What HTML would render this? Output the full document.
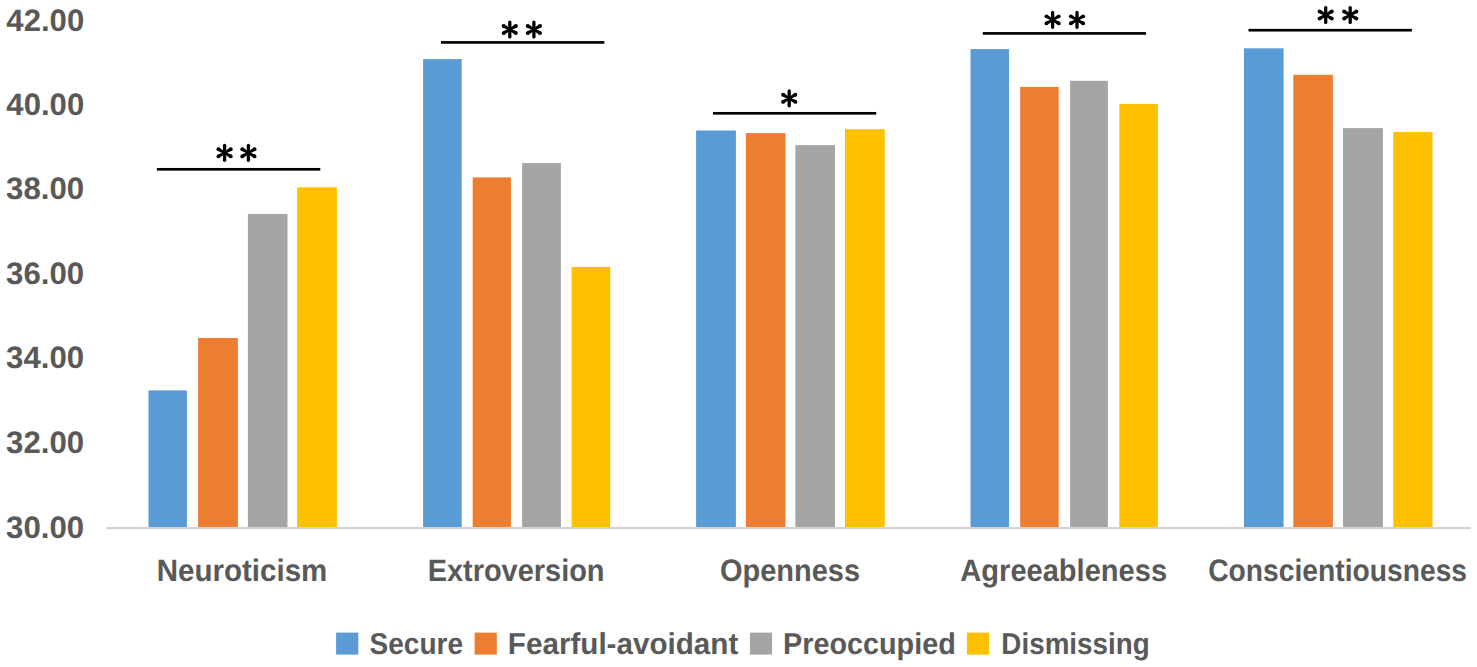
<!DOCTYPE html>
<html><head><meta charset="utf-8"><style>
html,body{margin:0;padding:0;background:#fff;}
body{width:1477px;height:667px;overflow:hidden;}
svg{display:block;}
text{font-family:"Liberation Sans",sans-serif;font-weight:bold;fill:#595959;text-rendering:geometricPrecision;}
.yl{font-size:31px;}
.cl{font-size:31px;}
.lg{font-size:30.2px;}
</style></head><body>
<svg width="1477" height="667" viewBox="0 0 1477 667">
<rect x="148.50" y="390.40" width="38.40" height="136.60" fill="#5B9BD5"/>
<rect x="198.10" y="338.00" width="39.80" height="189.00" fill="#ED7D31"/>
<rect x="247.90" y="213.90" width="39.60" height="313.10" fill="#A5A5A5"/>
<rect x="297.10" y="187.30" width="39.80" height="339.70" fill="#FFC000"/>
<rect x="423.10" y="59.10" width="38.60" height="467.90" fill="#5B9BD5"/>
<rect x="472.70" y="177.40" width="38.20" height="349.60" fill="#ED7D31"/>
<rect x="522.10" y="163.10" width="38.80" height="363.90" fill="#A5A5A5"/>
<rect x="571.50" y="266.90" width="38.70" height="260.10" fill="#FFC000"/>
<rect x="696.10" y="130.50" width="39.80" height="396.50" fill="#5B9BD5"/>
<rect x="745.90" y="133.10" width="39.60" height="393.90" fill="#ED7D31"/>
<rect x="795.40" y="145.10" width="39.60" height="381.90" fill="#A5A5A5"/>
<rect x="845.00" y="129.20" width="39.80" height="397.80" fill="#FFC000"/>
<rect x="970.50" y="49.10" width="38.60" height="477.90" fill="#5B9BD5"/>
<rect x="1020.20" y="86.90" width="38.50" height="440.10" fill="#ED7D31"/>
<rect x="1070.10" y="80.80" width="37.80" height="446.20" fill="#A5A5A5"/>
<rect x="1119.30" y="103.90" width="38.60" height="423.10" fill="#FFC000"/>
<rect x="1243.90" y="48.30" width="39.70" height="478.70" fill="#5B9BD5"/>
<rect x="1293.30" y="74.80" width="39.60" height="452.20" fill="#ED7D31"/>
<rect x="1343.00" y="128.10" width="39.90" height="398.90" fill="#A5A5A5"/>
<rect x="1393.30" y="131.90" width="39.20" height="395.10" fill="#FFC000"/>
<rect x="106.2" y="527" width="1364.8" height="2.2" fill="#D3D3D3"/>
<rect x="156.9" y="167.97" width="163.40" height="2.67" fill="#000"/>
<rect x="441" y="41.07" width="163.40" height="2.67" fill="#000"/>
<rect x="713" y="111.97" width="163.20" height="2.67" fill="#000"/>
<rect x="982.8" y="32.07" width="163.20" height="2.67" fill="#000"/>
<rect x="1248.5" y="28.87" width="163.40" height="2.67" fill="#000"/>
<path d="M224.60 145.35L224.60 160.25" stroke="#000" stroke-width="3.3" stroke-linecap="round"/><path d="M225.12 151.89L219.29 147.60L217.44 150.80L224.07 153.71Z" fill="#000"/><circle cx="218.36" cy="149.20" r="1.85" fill="#000"/><path d="M224.07 151.89L217.44 154.80L219.29 158.00L225.12 153.71Z" fill="#000"/><circle cx="218.36" cy="156.40" r="1.85" fill="#000"/><path d="M225.12 153.71L231.76 150.80L229.91 147.60L224.07 151.89Z" fill="#000"/><circle cx="230.84" cy="149.20" r="1.85" fill="#000"/><path d="M224.07 153.71L229.91 158.00L231.76 154.80L225.12 151.89Z" fill="#000"/><circle cx="230.84" cy="156.40" r="1.85" fill="#000"/>
<path d="M248.40 145.35L248.40 160.25" stroke="#000" stroke-width="3.3" stroke-linecap="round"/><path d="M248.93 151.89L243.09 147.60L241.24 150.80L247.88 153.71Z" fill="#000"/><circle cx="242.16" cy="149.20" r="1.85" fill="#000"/><path d="M247.88 151.89L241.24 154.80L243.09 158.00L248.93 153.71Z" fill="#000"/><circle cx="242.16" cy="156.40" r="1.85" fill="#000"/><path d="M248.93 153.71L255.56 150.80L253.71 147.60L247.88 151.89Z" fill="#000"/><circle cx="254.64" cy="149.20" r="1.85" fill="#000"/><path d="M247.88 153.71L253.71 158.00L255.56 154.80L248.93 151.89Z" fill="#000"/><circle cx="254.64" cy="156.40" r="1.85" fill="#000"/>
<path d="M509.80 22.05L509.80 36.95" stroke="#000" stroke-width="3.3" stroke-linecap="round"/><path d="M510.32 28.59L504.49 24.30L502.64 27.50L509.28 30.41Z" fill="#000"/><circle cx="503.56" cy="25.90" r="1.85" fill="#000"/><path d="M509.28 28.59L502.64 31.50L504.49 34.70L510.32 30.41Z" fill="#000"/><circle cx="503.56" cy="33.10" r="1.85" fill="#000"/><path d="M510.32 30.41L516.96 27.50L515.11 24.30L509.28 28.59Z" fill="#000"/><circle cx="516.04" cy="25.90" r="1.85" fill="#000"/><path d="M509.28 30.41L515.11 34.70L516.96 31.50L510.32 28.59Z" fill="#000"/><circle cx="516.04" cy="33.10" r="1.85" fill="#000"/>
<path d="M533.90 22.05L533.90 36.95" stroke="#000" stroke-width="3.3" stroke-linecap="round"/><path d="M534.42 28.59L528.59 24.30L526.74 27.50L533.38 30.41Z" fill="#000"/><circle cx="527.66" cy="25.90" r="1.85" fill="#000"/><path d="M533.38 28.59L526.74 31.50L528.59 34.70L534.42 30.41Z" fill="#000"/><circle cx="527.66" cy="33.10" r="1.85" fill="#000"/><path d="M534.42 30.41L541.06 27.50L539.21 24.30L533.38 28.59Z" fill="#000"/><circle cx="540.14" cy="25.90" r="1.85" fill="#000"/><path d="M533.38 30.41L539.21 34.70L541.06 31.50L534.42 28.59Z" fill="#000"/><circle cx="540.14" cy="33.10" r="1.85" fill="#000"/>
<path d="M789.20 90.85L789.20 105.75" stroke="#000" stroke-width="3.3" stroke-linecap="round"/><path d="M789.73 97.39L783.89 93.10L782.04 96.30L788.68 99.21Z" fill="#000"/><circle cx="782.96" cy="94.70" r="1.85" fill="#000"/><path d="M788.68 97.39L782.04 100.30L783.89 103.50L789.73 99.21Z" fill="#000"/><circle cx="782.96" cy="101.90" r="1.85" fill="#000"/><path d="M789.73 99.21L796.36 96.30L794.51 93.10L788.68 97.39Z" fill="#000"/><circle cx="795.44" cy="94.70" r="1.85" fill="#000"/><path d="M788.68 99.21L794.51 103.50L796.36 100.30L789.73 97.39Z" fill="#000"/><circle cx="795.44" cy="101.90" r="1.85" fill="#000"/>
<path d="M1052.60 12.40L1052.60 27.30" stroke="#000" stroke-width="3.3" stroke-linecap="round"/><path d="M1053.12 18.94L1047.29 14.65L1045.44 17.85L1052.07 20.76Z" fill="#000"/><circle cx="1046.36" cy="16.25" r="1.85" fill="#000"/><path d="M1052.07 18.94L1045.44 21.85L1047.29 25.05L1053.12 20.76Z" fill="#000"/><circle cx="1046.36" cy="23.45" r="1.85" fill="#000"/><path d="M1053.12 20.76L1059.76 17.85L1057.91 14.65L1052.07 18.94Z" fill="#000"/><circle cx="1058.84" cy="16.25" r="1.85" fill="#000"/><path d="M1052.07 20.76L1057.91 25.05L1059.76 21.85L1053.12 18.94Z" fill="#000"/><circle cx="1058.84" cy="23.45" r="1.85" fill="#000"/>
<path d="M1077.00 12.40L1077.00 27.30" stroke="#000" stroke-width="3.3" stroke-linecap="round"/><path d="M1077.53 18.94L1071.69 14.65L1069.84 17.85L1076.47 20.76Z" fill="#000"/><circle cx="1070.76" cy="16.25" r="1.85" fill="#000"/><path d="M1076.47 18.94L1069.84 21.85L1071.69 25.05L1077.53 20.76Z" fill="#000"/><circle cx="1070.76" cy="23.45" r="1.85" fill="#000"/><path d="M1077.53 20.76L1084.16 17.85L1082.31 14.65L1076.47 18.94Z" fill="#000"/><circle cx="1083.24" cy="16.25" r="1.85" fill="#000"/><path d="M1076.47 20.76L1082.31 25.05L1084.16 21.85L1077.53 18.94Z" fill="#000"/><circle cx="1083.24" cy="23.45" r="1.85" fill="#000"/>
<path d="M1325.70 7.55L1325.70 22.45" stroke="#000" stroke-width="3.3" stroke-linecap="round"/><path d="M1326.23 14.09L1320.39 9.80L1318.54 13.00L1325.17 15.91Z" fill="#000"/><circle cx="1319.46" cy="11.40" r="1.85" fill="#000"/><path d="M1325.17 14.09L1318.54 17.00L1320.39 20.20L1326.23 15.91Z" fill="#000"/><circle cx="1319.46" cy="18.60" r="1.85" fill="#000"/><path d="M1326.23 15.91L1332.86 13.00L1331.01 9.80L1325.17 14.09Z" fill="#000"/><circle cx="1331.94" cy="11.40" r="1.85" fill="#000"/><path d="M1325.17 15.91L1331.01 20.20L1332.86 17.00L1326.23 14.09Z" fill="#000"/><circle cx="1331.94" cy="18.60" r="1.85" fill="#000"/>
<path d="M1350.20 7.55L1350.20 22.45" stroke="#000" stroke-width="3.3" stroke-linecap="round"/><path d="M1350.73 14.09L1344.89 9.80L1343.04 13.00L1349.67 15.91Z" fill="#000"/><circle cx="1343.96" cy="11.40" r="1.85" fill="#000"/><path d="M1349.67 14.09L1343.04 17.00L1344.89 20.20L1350.73 15.91Z" fill="#000"/><circle cx="1343.96" cy="18.60" r="1.85" fill="#000"/><path d="M1350.73 15.91L1357.36 13.00L1355.51 9.80L1349.67 14.09Z" fill="#000"/><circle cx="1356.44" cy="11.40" r="1.85" fill="#000"/><path d="M1349.67 15.91L1355.51 20.20L1357.36 17.00L1350.73 14.09Z" fill="#000"/><circle cx="1356.44" cy="18.60" r="1.85" fill="#000"/>
<text class="yl" x="6.37" y="31.25" textLength="77.84" lengthAdjust="spacingAndGlyphs">42.00</text>
<text class="yl" x="6.37" y="114.80" textLength="77.84" lengthAdjust="spacingAndGlyphs">40.00</text>
<text class="yl" x="6.05" y="199.25" textLength="78.06" lengthAdjust="spacingAndGlyphs">38.00</text>
<text class="yl" x="6.05" y="283.85" textLength="78.06" lengthAdjust="spacingAndGlyphs">36.00</text>
<text class="yl" x="6.05" y="368.10" textLength="78.06" lengthAdjust="spacingAndGlyphs">34.00</text>
<text class="yl" x="6.05" y="452.95" textLength="78.06" lengthAdjust="spacingAndGlyphs">32.00</text>
<text class="yl" x="6.05" y="537.90" textLength="78.06" lengthAdjust="spacingAndGlyphs">30.00</text>
<text class="cl" x="156.75" y="581.00" textLength="170.57" lengthAdjust="spacingAndGlyphs">Neuroticism</text>
<text class="cl" x="427.65" y="581.00" textLength="176.91" lengthAdjust="spacingAndGlyphs">Extroversion</text>
<text class="cl" x="719.95" y="581.00" textLength="140.06" lengthAdjust="spacingAndGlyphs">Openness</text>
<text class="cl" x="960.33" y="581.00" textLength="206.77" lengthAdjust="spacingAndGlyphs">Agreeableness</text>
<text class="cl" x="1208.23" y="581.00" textLength="258.82" lengthAdjust="spacingAndGlyphs">Conscientiousness</text>
<rect x="336.1" y="632.6" width="22.2" height="22" fill="#5B9BD5"/>
<text class="lg" x="369.57" y="654.20" textLength="93.57" lengthAdjust="spacingAndGlyphs">Secure</text>
<rect x="474.6" y="632.6" width="22.2" height="22" fill="#ED7D31"/>
<text class="lg" x="507.86" y="654.20" textLength="230.41" lengthAdjust="spacingAndGlyphs">Fearful-avoidant</text>
<rect x="749.9" y="632.6" width="22.2" height="22" fill="#A5A5A5"/>
<text class="lg" x="783.03" y="654.20" textLength="172.76" lengthAdjust="spacingAndGlyphs">Preoccupied</text>
<rect x="966.9" y="632.6" width="22.2" height="22" fill="#FFC000"/>
<text class="lg" x="1001.36" y="654.20" textLength="148.34" lengthAdjust="spacingAndGlyphs">Dismissing</text>
</svg>
</body></html>
